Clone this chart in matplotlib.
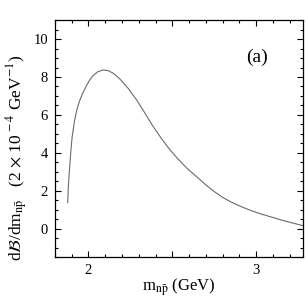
import matplotlib
matplotlib.use("Agg")
import matplotlib.pyplot as plt
from matplotlib.ticker import MultipleLocator, FuncFormatter

plt.rcParams['font.family'] = ['Liberation Serif', 'DejaVu Serif']
plt.rcParams['mathtext.fontset'] = 'stix'

# invariant mass (GeV) and differential branching fraction (2e-4 GeV^-1)
m_np = [1.876, 1.880, 1.886, 1.894, 1.902, 1.916, 1.930, 1.946, 1.966, 1.986,
        2.006, 2.026, 2.056, 2.086, 2.116, 2.146, 2.186, 2.235, 2.286, 2.335,
        2.385, 2.435, 2.485, 2.535, 2.585, 2.605, 2.665, 2.705, 2.755, 2.804,
        2.854, 2.904, 2.954, 3.004, 3.054, 3.104, 3.154, 3.204, 3.240, 3.280]
dB_dm = [1.37, 2.25, 3.03, 4.00, 4.79, 5.65, 6.25, 6.72, 7.15, 7.51,
         7.82, 8.06, 8.28, 8.37, 8.34, 8.21, 7.91, 7.42, 6.81, 6.12,
         5.40, 4.76, 4.17, 3.67, 3.21, 3.05, 2.59, 2.27, 1.93, 1.63,
         1.39, 1.19, 1.01, 0.85, 0.71, 0.58, 0.45, 0.33, 0.25, 0.16]

fig = plt.figure(figsize=(3.07, 3.05), dpi=100)
ax = fig.add_axes([0.179, 0.157, 0.808, 0.777])

ax.plot(m_np, dB_dm, color='#6a6a6a', lw=0.8)

ax.set_xlim(1.8, 3.28)
ax.set_ylim(-1.5, 11)

ax.xaxis.set_major_locator(MultipleLocator(0.5))
ax.xaxis.set_minor_locator(MultipleLocator(0.1))
ax.xaxis.set_major_formatter(FuncFormatter(lambda v, p: f"{v:.0f}" if abs(v - round(v)) < 1e-6 else ""))
ax.yaxis.set_major_locator(MultipleLocator(2))
ax.yaxis.set_minor_locator(MultipleLocator(0.5))

ax.tick_params(which='both', direction='in', top=True, right=True, labelsize=10.5, width=0.8)
ax.tick_params(which='major', length=4.5, pad=5)
ax.tick_params(which='minor', length=2.5)
for s in ax.spines.values():
    s.set_linewidth(0.9)

ax.set_xlabel(r'm$_{\mathrm{n\bar{p}}}$ (GeV)', fontsize=12)
ax.xaxis.set_label_coords(0.5, -0.08)
ax.set_ylabel(r'd$\mathcal{B}$/dm$_{\mathrm{n\bar{p}}}$   (2 $\times$ 10$^{\,-4}$ GeV$^{-1}$)', fontsize=12.5)
ax.yaxis.set_label_coords(-0.1, 0.42)

ax.text(0.813, 0.845, '(a)', transform=ax.transAxes, fontsize=14, ha='center', va='center')

fig.savefig('out.png', dpi=100)
